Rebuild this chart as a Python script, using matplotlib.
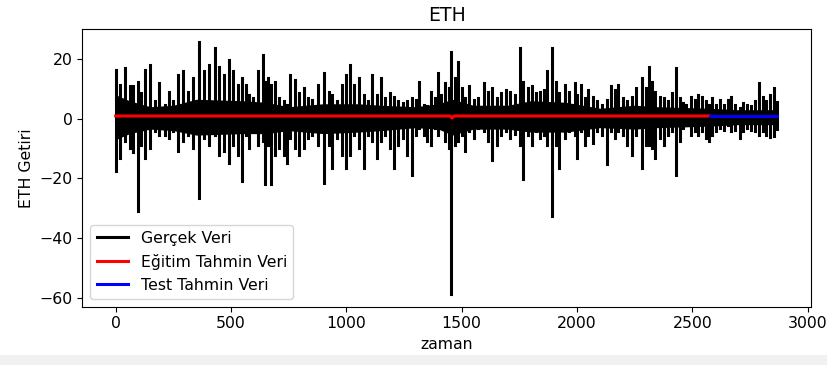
import numpy as np
import matplotlib
matplotlib.use('Agg')
import matplotlib.pyplot as plt
from matplotlib.patches import Rectangle

plt.rcParams['font.size'] = 11.3

# zaman (index) and the peak / trough of the ETH return read at that time
zaman = [0, 17, 39, 60, 75, 97, 111, 125, 147, 169, 190, 212, 231, 248, 270, 291, 313, 334, 363, 385,
         406, 432, 450, 471, 490, 510, 529, 548,
         565, 579, 594, 615, 637, 647, 662, 673, 690, 709, 728, 742, 757, 777, 796, 817, 834, 853, 878,
         904, 925, 940, 961, 983, 997, 1016, 1033, 1055, 1077, 1094, 1113, 1134,
         1149, 1167, 1188, 1206, 1225, 1245, 1264, 1286, 1303, 1317, 1336, 1350, 1369, 1384, 1398, 1412,
         1427, 1444, 1456, 1470, 1484, 1502, 1516, 1533, 1552, 1571, 1595, 1614, 1631, 1653, 1672, 1692, 1711,
         1730, 1751, 1768, 1786, 1804, 1823, 1840, 1858, 1872, 1894, 1910, 1924, 1948, 1967, 1992, 2002, 2018,
         2035, 2049, 2071, 2088, 2107, 2129, 2146, 2165, 2179, 2198, 2215, 2237, 2258, 2280, 2299,
         2313, 2326, 2340, 2359, 2378, 2395, 2413, 2428, 2446, 2460, 2474, 2493, 2511, 2525, 2542, 2561,
         2571, 2585, 2604, 2619, 2637, 2655, 2669, 2686, 2705, 2719, 2738, 2755, 2773, 2789, 2806, 2820,
         2839, 2853, 2868]

tepe = [16.3, 11.3, 17, 10.8, 11, 12.4, 8.6, 16.3, 17.8, 5.8, 11.9, 4.7, 9, 5.8, 14.7, 15.8, 9, 13.6, 25.8, 15.8,
        18, 23.6, 17.4, 14.7, 19.7, 15.8, 11.3, 13.6,
        11.3, 8, 6.9, 15.8, 21.3, 12.4, 13.6, 11.3, 12.4, 6.9, 5.8, 4.7, 14.7, 13, 8.6, 10.2, 6.9, 6.3, 11.3,
        15.2, 9, 8, 5.8, 11.3, 14.7, 18, 11.3, 13.6, 8, 5.8, 14.7, 8,
        13.6, 6.9, 8.6, 7.4, 5.8, 5.2, 5.8, 6.9, 6.3, 12.4, 4.7, 4.1, 9, 6.9, 15.2, 8,
        11.9, 10.2, 22.4, 13.6, 19.1, 10.2, 6.9, 10.8, 6.3, 6.9, 11.9, 9, 10.2, 6.9, 8.6, 9.7, 9,
        8, 23.6, 12.4, 10.2, 10.8, 8.6, 9, 9.7, 15.8, 23.6, 12.4, 8.6, 11.3, 9, 11.9, 8, 11.3,
        6.9, 9.7, 7.4, 5.8, 4.7, 6.3, 10.8, 9.7, 11.3, 6.9, 5.8, 7.4, 10.2, 13.6, 10.2,
        17.4, 12.4, 9, 7.4, 6.9, 5.8, 8.6, 16.9, 6.9, 5.2, 4.7, 7.4, 6.3, 8, 7.4, 5.8,
        4.7, 6.9, 4.7, 6.3, 4.7, 6.3, 7.4, 4.7, 3.6, 5.2, 4.7, 4.1, 5.8, 11.9, 7.4, 5.8,
        8, 10.2, 5.5]

dip = [-17.6, -13, -7.5, -9.8, -11, -30.9, -8.7, -13, -9.8, -4.2, -5.3, -5.3, -6.4, -4.2, -10.9, -7.5, -5.3, -9.8, -26.4, -6.4,
       -8.7, -5.3, -12, -10.9, -14.8, -8.7, -12, -20.9,
       -5.3, -9.8, -4.2, -8.7, -7.5, -22, -8.7, -22, -12, -9.8, -12, -14.8, -6.4, -9.8, -12, -9.8, -6.4, -5.3, -8.7,
       -21.4, -8.7, -16.4, -6.4, -12, -16.4, -12, -5.3, -9.8, -16.4, -5.3, -7.5, -13,
       -7.5, -5.3, -9.8, -16.4, -8.7, -6.4, -12, -18.7, -5.3, -3.1, -5.3, -7.5, -8.7, -3.1, -5.3, -3.1,
       -7.5, -9.8, -58.7, -8.7, -7.5, -5.3, -10.9, -4.2, -6.4, -3.1, -4.2, -7.5, -13.7, -8.7, -5.3, -4.2, -6.4,
       -5, -8.7, -20.3, -5.3, -8.7, -4.2, -6.4, -5.3, -8.7, -32.5, -8.7, -16.4, -6.4, -4.2, -5.3, -13, -4.2,
       -8.7, -5.3, -8.1, -4.2, -5.3, -15, -4.2, -6.4, -4.2, -5.3, -8.7, -12, -5.3, -16.4, -8.7,
       -8.7, -9.8, -13, -6.4, -8.7, -5.3, -4.2, -18.7, -7.5, -3.1, -2, -5.3, -4.2, -5.3, -4.2, -6.4,
       -7.5, -5.3, -4.2, -3.1, -3.7, -2, -4.2, -3.7, -6.4, -4.2, -3.1, -3.7, -4.2, -5.3, -4.2, -5.3,
       -6, -5.9, -3.5]

# solid dense band around zero
cekirdek_zaman = [0, 60, 150, 250, 350, 550, 650, 750, 900, 1050, 1150, 1300, 1400, 1460, 1550,
                  1700, 1800, 1950, 2100, 2250, 2350, 2570, 2700, 2868]
cekirdek_ust = [8, 6, 4, 4.5, 6.5, 6, 5.5, 4, 5, 5, 4.5, 4, 5, 6.5, 4.5, 4.5, 6, 5.5, 3.5, 4.5, 4, 3.5, 3, 3]
cekirdek_alt = [-7, -5, -3.5, -4, -5.5, -5, -5, -4, -5, -4.5, -4, -3, -3.5, -5.5, -3.5, -3.5, -4.5,
                -4.5, -3, -3.5, -3, -2.5, -2, -2]

egitim_zaman = [0, 1450, 1458, 1466, 2575]
egitim_tahmin = [0.9, 0.9, 0.2, 0.9, 0.9]
test_zaman = [2575, 2868]
test_tahmin = [0.9, 0.9]

n = len(zaman)
x = np.column_stack([zaman, zaman, np.full(n, np.nan)]).ravel()
y = np.column_stack([tepe, dip, np.full(n, np.nan)]).ravel()

fig = plt.figure(figsize=(8.28, 3.65), dpi=100)
ax = fig.add_axes([0.0996, 0.1597, 0.8799, 0.76])

ax.fill_between(cekirdek_zaman, cekirdek_alt, cekirdek_ust, color='black', lw=0)
ax.plot(x, y, color='black', lw=2.2, label='Gerçek Veri')
ax.plot(egitim_zaman, egitim_tahmin, color='red', lw=2.2, label='Eğitim Tahmin Veri')
ax.plot(test_zaman, test_tahmin, color='blue', lw=2.2, label='Test Tahmin Veri')

ax.set_xlim(-144, 3015)
ax.set_ylim(-62.9, 29.9)
ax.set_title('ETH')
ax.set_xlabel('zaman')
ax.set_ylabel('ETH Getiri')
ax.legend(loc='lower left')

# grey strip of the notebook cell at the bottom
fig.patches.append(Rectangle((0, 0), 1, 10/365, transform=fig.transFigure,
                             facecolor='#f1f1f1', edgecolor='none', zorder=-1))

fig.savefig('out.png', dpi=100)
